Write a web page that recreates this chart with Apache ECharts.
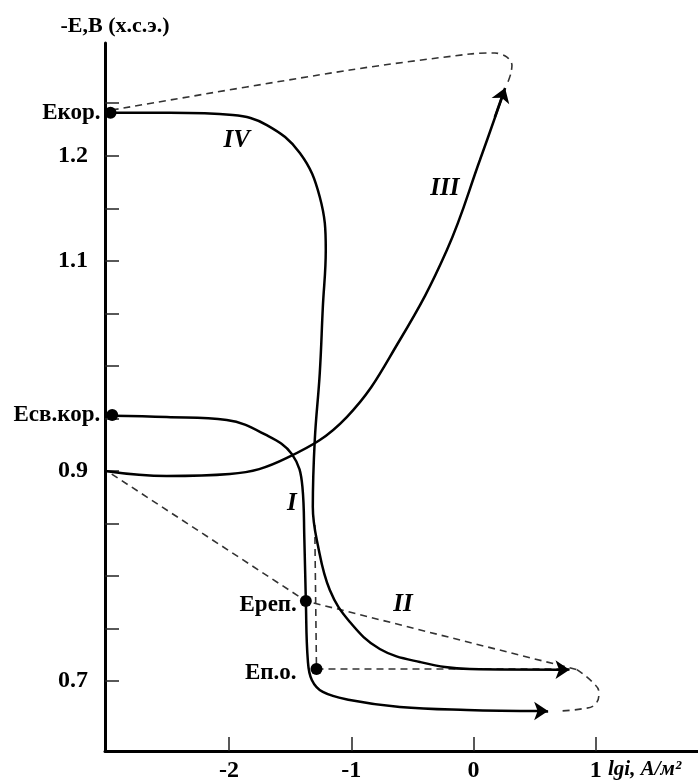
<!DOCTYPE html>
<html>
<head>
<meta charset="utf-8">
<script src="https://cdn.jsdelivr.net/npm/echarts@6/dist/echarts.min.js"></script>
<style>
html,body{margin:0;padding:0;background:#fff}
#chart{width:698px;height:783px}
</style>
</head>
<body>
<div id="chart"></div>
<script>
// values are [lgi, -E]
var curveIV = [[-2.97,1.241],[-2.485,1.241],[-1.97,1.2387],[-1.691,1.2292],[-1.421,1.2026],
    [-1.258,1.1607],[-1.209,1.1102],[-1.233,1.056],[-1.258,0.9932],
    [-1.299,0.9294],[-1.315,0.8656],[-1.274,0.8295],[-1.176,0.7866],[-1.012,0.7562],
    [-0.767,0.7305],[-0.439,0.7181],[-0.03,0.7114],[0.72,0.7108]];
var curveI = [[-2.954,0.9525],[-2.51,0.9513],[-2.019,0.9484],[-1.706,0.9347],[-1.486,0.916],
    [-1.40,0.8847],[-1.384,0.8342],[-1.372,0.7762],[-1.356,0.72],[-1.323,0.701],
    [-1.233,0.6896],[-1.012,0.682],[-0.603,0.6753],[-0.055,0.6725],[0.56,0.6715]];
var curveIII = [[-3.015,0.9],[-2.51,0.8951],[-1.994,0.897],[-1.527,0.9123],[-1.037,0.9513],
    [-0.603,1.0246],[-0.218,1.1102],[0.052,1.1959],[0.248,1.2606]];
var dashTop = [[-2.96,1.2435],[-1.012,1.2816],[-0.03,1.2968],[0.175,1.2978],[0.273,1.2939],
    [0.314,1.2863],[0.306,1.2787],[0.281,1.2701]];
var dashII = [[-2.96,0.897],[-1.372,0.7762],[0.763,0.7133],[0.845,0.7108]];
var dashLoop = [[0.845,0.7108],[0.976,0.6985],[1.025,0.689],[0.992,0.6776],[0.894,0.6737],[0.706,0.6715]];
var dashVert = [[-1.299,0.8485],[-1.285,0.7114]];
var dashHoriz = [[-1.285,0.7114],[0.76,0.7114]];
// arrow heads: [from, to]
var arrowIV = [[0.70,0.7108],[0.785,0.7108]];
var arrowI = [[0.52,0.6715],[0.61,0.6715]];
var arrowIII = [[0.174,1.2368],[0.258,1.2645]];

var pointNames = ['Екор.', 'Есв.кор.', 'Ереп.', 'Еп.о.'];
var pointValues = [[-2.97,1.241],[-2.956,0.9532],[-1.372,0.7762],[-1.285,0.7114]];
var romanNames = ['I', 'II', 'III', 'IV'];
var romanValues = [[-1.487,0.869],[-0.578,0.7725],[-0.235,1.169],[-1.937,1.2148]];

var xTicks = [-2, -1, 0, 1];
var yTicks = [0.7, 0.75, 0.8, 0.85, 0.9, 0.95, 1.0, 1.05, 1.1, 1.15, 1.2, 1.25];
var yLabels = [0.7, 0.9, 1.1, 1.2];

var serif = '"Liberation Serif", "Times New Roman", serif';

var solid = function(name, data, arrow){
    var s = {
        name: name, type: 'line', data: data, showSymbol: false, smooth: 0.4,
        lineStyle: {color: '#000', width: 2.5}, z: 3
    };
    if (arrow) {
        s.markLine = {
            silent: true, symbol: ['none', 'arrow'], symbolSize: 14,
            label: {show: false},
            lineStyle: {color: '#000', width: 2.5, type: 'solid'},
            itemStyle: {color: '#000'},
            data: [[{coord: arrow[0]}, {coord: arrow[1]}]]
        };
    }
    return s;
};
var dashed = function(name, data, smooth){
    return {
        name: name, type: 'line', data: data, showSymbol: false, smooth: smooth,
        lineStyle: {color: '#333', width: 1.6, type: [7, 5]}, z: 2
    };
};

var pointLabelOpt = [
    {distance: 4, offset: [0, 0]},
    {distance: 6, offset: [0, 0]},
    {distance: 3, offset: [0, 4]},
    {distance: 14, offset: [0, 4]}
];

var myChart = echarts.init(document.getElementById('chart'));
var option = {
    animation: false,
    grid: {left: 105, right: 0, top: 43, bottom: 32},
    xAxis: {
        type: 'value', min: -3.015, max: 1.836,
        name: 'lgi, A/м²', nameLocation: 'end', nameGap: -90,
        nameTextStyle: {fontFamily: serif, fontStyle: 'italic', fontWeight: 'bold', fontSize: 21,
            color: '#000', verticalAlign: 'top', padding: [8, 0, 0, 0]},
        axisLine: {onZero: false, lineStyle: {color: '#000', width: 3}},
        axisTick: {inside: true, length: 14, customValues: xTicks, lineStyle: {color: '#222', width: 1.5}},
        axisLabel: {customValues: xTicks, margin: 8, fontFamily: serif, fontWeight: 'bold',
            fontSize: 24, color: '#000'},
        splitLine: {show: false}
    },
    yAxis: {
        type: 'value', min: 0.6334, max: 1.3073,
        name: '-E,B (x.c.э.)', nameLocation: 'end', nameGap: 6,
        nameTextStyle: {fontFamily: serif, fontWeight: 'bold', fontSize: 22, color: '#000',
            align: 'center', padding: [0, 0, 0, 20]},
        axisLine: {onZero: false, lineStyle: {color: '#000', width: 3}},
        axisTick: {inside: true, length: 14, customValues: yTicks, lineStyle: {color: '#222', width: 1.5}},
        axisLabel: {customValues: yLabels, margin: 17, fontFamily: serif, fontWeight: 'bold',
            fontSize: 24, color: '#000'},
        splitLine: {show: false}
    },
    series: [
        dashed('top', dashTop, 0.3),
        dashed('II', dashII, false),
        dashed('loop', dashLoop, 0.5),
        dashed('vert', dashVert, false),
        dashed('horiz', dashHoriz, false),
        solid('IV', curveIV, arrowIV),
        solid('I', curveI, arrowI),
        solid('III', curveIII, arrowIII),
        {
            name: 'points', type: 'scatter', symbol: 'circle', symbolSize: 12, z: 5,
            itemStyle: {color: '#000', opacity: 1},
            label: {show: true, position: 'left', formatter: '{b}', fontFamily: serif,
                fontWeight: 'bold', fontSize: 23, color: '#000', opacity: 1},
            data: pointValues.map(function(v, i){
                return {name: pointNames[i], value: v, label: pointLabelOpt[i]};
            })
        },
        {
            name: 'roman', type: 'scatter', symbolSize: 0, z: 5,
            itemStyle: {opacity: 1},
            label: {show: true, position: 'inside', formatter: '{b}', fontFamily: serif,
                fontStyle: 'italic', fontWeight: 'bold', fontSize: 25, color: '#000', opacity: 1},
            data: romanValues.map(function(v, i){
                return {name: romanNames[i], value: v};
            })
        }
    ]
};
myChart.setOption(option);
</script>
</body>
</html>
